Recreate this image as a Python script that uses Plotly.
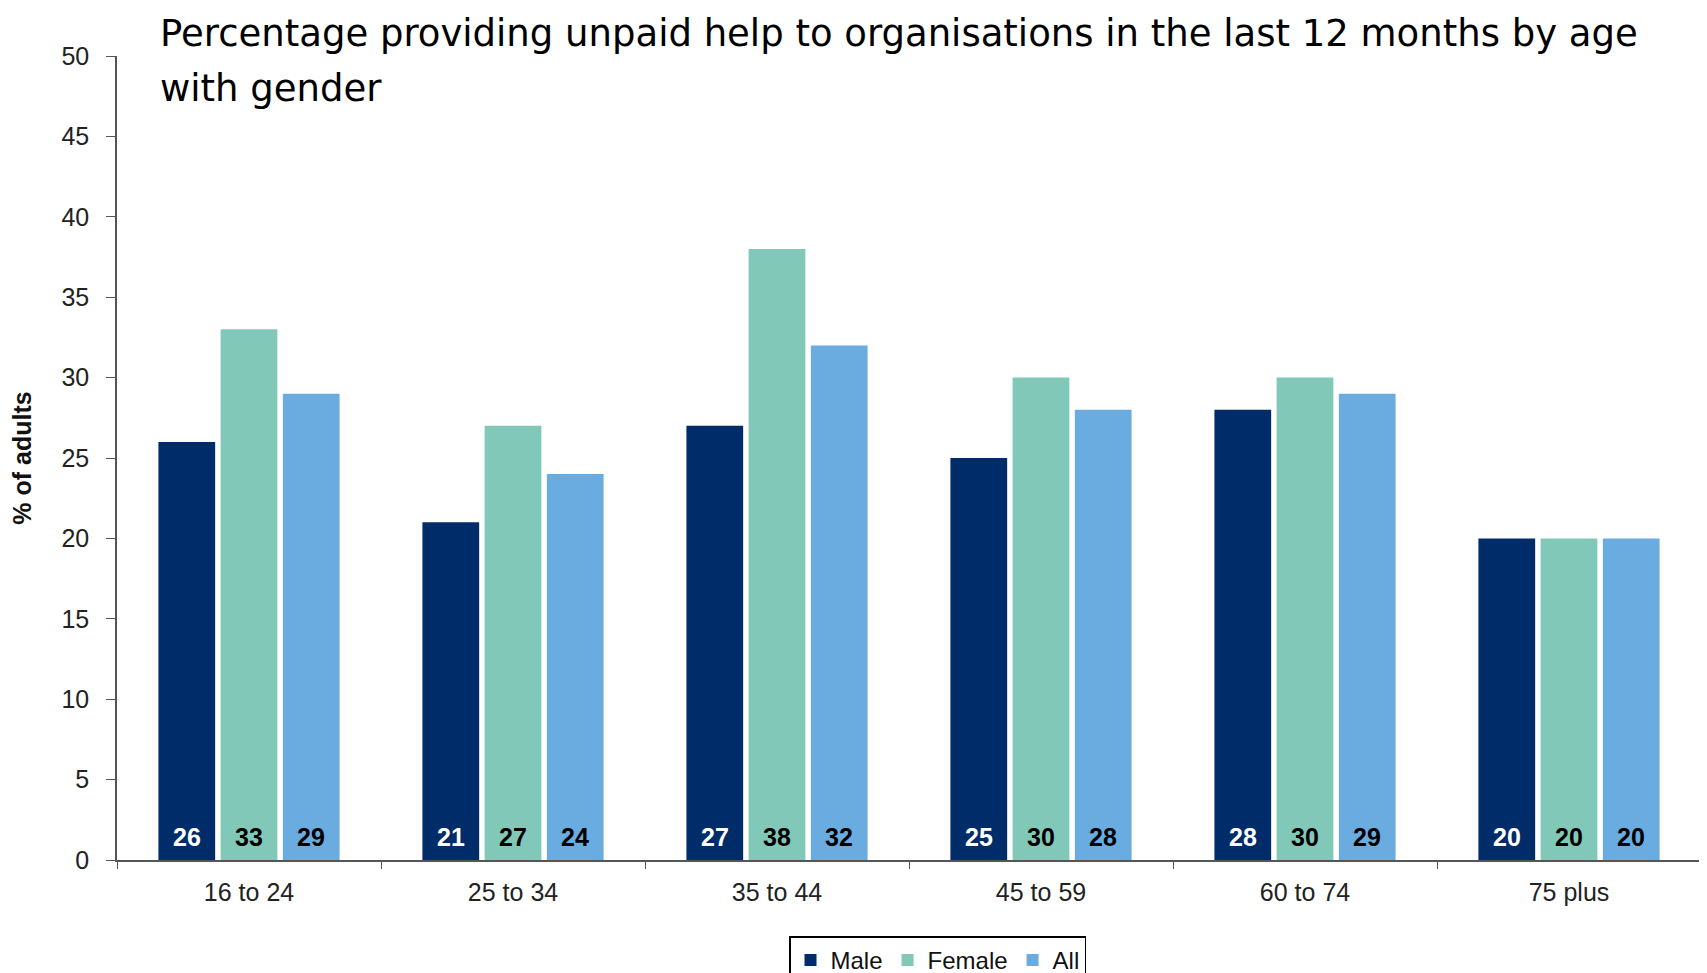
import plotly.graph_objects as go

categories = ["16 to 24", "25 to 34", "35 to 44", "45 to 59", "60 to 74", "75 plus"]
male = [26, 21, 27, 25, 28, 20]
female = [33, 27, 38, 30, 30, 20]
all_adults = [29, 24, 32, 28, 29, 20]
y_ticks = [0, 5, 10, 15, 20, 25, 30, 35, 40, 45, 50]
title_lines = ["Percentage providing unpaid help to organisations in the last 12 months by age",
               "with gender"]

series = [
    ("Male", male, "#002C69", "white"),
    ("Female", female, "#82C8B8", "black"),
    ("All", all_adults, "#6AACE0", "black"),
]

# layout geometry (figure pixels; page body adds an 8px margin)
W, H = 1699, 965
L, R, T, B = 108.5, 6, 47.5, 113
BARGAP, GROUPGAP = 0.293, 0.088
plot_w = W - L - R
plot_h = H - T - B
slot = plot_w / len(categories) * (1 - BARGAP) / len(series)

fig = go.Figure()
for i, (name, vals, color, tcolor) in enumerate(series):
    fig.add_trace(go.Bar(
        name=name, x=categories, y=vals,
        marker=dict(color=color, line=dict(width=0)),
        hoverinfo="x+y+name",
    ))
    for cat, v in zip(categories, vals):
        fig.add_annotation(
            x=cat, y=0, xref="x", yref="y", text=f"<b>{v}</b>", showarrow=False,
            xanchor="center", yanchor="bottom", yshift=7,
            xshift=(i - (len(series) - 1) / 2) * slot,
            font=dict(family="Liberation Sans, Arial", size=25, color=tcolor),
        )

def fig_y_to_paper(py):
    return (H - B - py) / plot_h

title_centers = [24.5, 80]
for line, cy in zip(title_lines, title_centers):
    fig.add_annotation(
        x=(150 - L) / plot_w, y=fig_y_to_paper(cy), xref="paper", yref="paper",
        text=line, showarrow=False, xanchor="left", yanchor="middle",
        font=dict(family="DejaVu Sans, sans-serif", size=37, color="black"),
    )

fig.update_layout(
    width=W, height=H,
    paper_bgcolor="white", plot_bgcolor="white",
    barmode="group", bargap=BARGAP, bargroupgap=GROUPGAP,
    margin=dict(l=L, r=R, t=T, b=B, autoexpand=False),
    font=dict(family="Liberation Sans, Arial", color="#222"),
    legend=dict(
        orientation="h", x=0.518, xanchor="center", y=-0.095, yanchor="top",
        bordercolor="black", borderwidth=1.5, font=dict(size=24, color="#111"),
        itemwidth=30, traceorder="normal",
    ),
    showlegend=True,
)
fig.update_xaxes(
    type="category", showline=True, linecolor="#555", linewidth=1.5,
    ticks="outside", tickson="boundaries", ticklen=7, tickcolor="#555",
    tickfont=dict(size=25, color="#222"), showgrid=False, ticklabelstandoff=9,
)
fig.update_yaxes(
    range=[0, 50], tickvals=y_ticks, showline=True, linecolor="#555", linewidth=1.5,
    ticks="outside", ticklen=9, tickcolor="#555", showgrid=False, zeroline=False,
    tickfont=dict(size=25, color="#222"), ticklabelstandoff=12,
    title=dict(text="<b>% of adults</b>", font=dict(size=25, color="#111"), standoff=40),
)
fig.write_html("out.html")
